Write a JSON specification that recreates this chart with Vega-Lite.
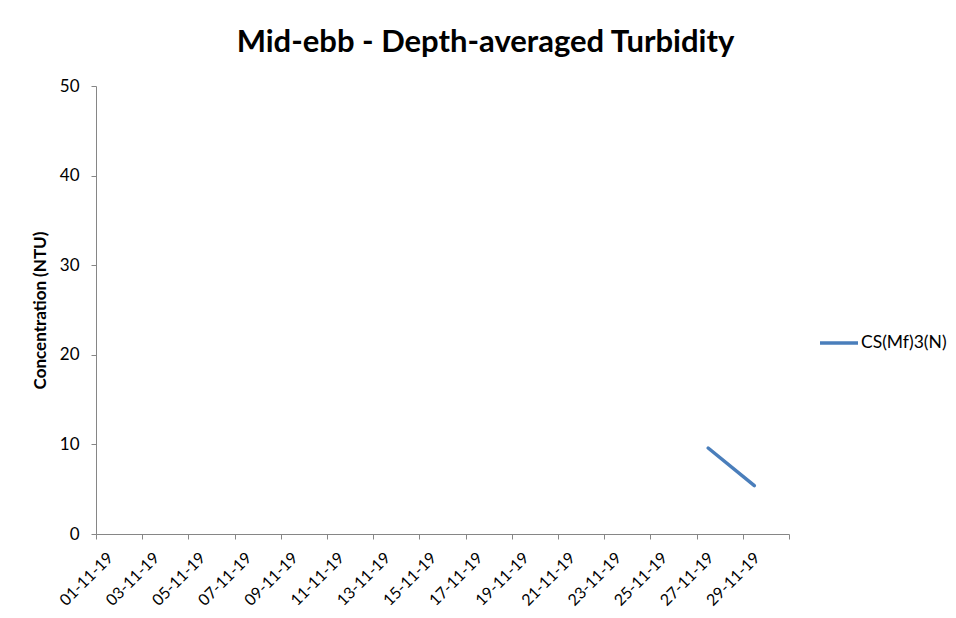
{
  "$schema": "https://vega.github.io/schema/vega-lite/v6.json",
  "autosize": "none",
  "width": 693,
  "height": 448,
  "padding": {"left": 96, "top": 86, "right": 167, "bottom": 84},
  "background": "white",
  "title": {
    "text": "Mid-ebb - Depth-averaged Turbidity",
    "font": "Lato",
    "fontSize": 31,
    "fontWeight": "bold",
    "color": "#000000",
    "anchor": "middle",
    "dx": 43,
    "offset": 18
  },
  "config": {
    "view": {"stroke": null},
    "axis": {
      "domainColor": "#868686",
      "tickColor": "#868686",
      "grid": false,
      "labelFont": "Lato",
      "labelColor": "#000000",
      "titleFont": "Lato"
    }
  },
  "data": {
    "values": [
      {"date": "2019-11-27T12:00:00Z", "value": 9.6, "series": "CS(Mf)3(N)"},
      {"date": "2019-11-29T12:00:00Z", "value": 5.4, "series": "CS(Mf)3(N)"}
    ]
  },
  "mark": {"type": "line", "strokeWidth": 3.5, "strokeCap": "round"},
  "encoding": {
    "x": {
      "field": "date",
      "type": "temporal",
      "scale": {
        "type": "utc",
        "domain": [
          {"year": 2019, "month": 11, "date": 1, "utc": true},
          {"year": 2019, "month": 12, "date": 1, "utc": true}
        ]
      },
      "axis": {
        "title": null,
        "values": [
          {"year": 2019, "month": 11, "date": 1, "utc": true},
          {"year": 2019, "month": 11, "date": 3, "utc": true},
          {"year": 2019, "month": 11, "date": 5, "utc": true},
          {"year": 2019, "month": 11, "date": 7, "utc": true},
          {"year": 2019, "month": 11, "date": 9, "utc": true},
          {"year": 2019, "month": 11, "date": 11, "utc": true},
          {"year": 2019, "month": 11, "date": 13, "utc": true},
          {"year": 2019, "month": 11, "date": 15, "utc": true},
          {"year": 2019, "month": 11, "date": 17, "utc": true},
          {"year": 2019, "month": 11, "date": 19, "utc": true},
          {"year": 2019, "month": 11, "date": 21, "utc": true},
          {"year": 2019, "month": 11, "date": 23, "utc": true},
          {"year": 2019, "month": 11, "date": 25, "utc": true},
          {"year": 2019, "month": 11, "date": 27, "utc": true},
          {"year": 2019, "month": 11, "date": 29, "utc": true},
          {"year": 2019, "month": 12, "date": 1, "utc": true}
        ],
        "labelExpr": "utcmonth(datum.value) == 11 ? '' : utcFormat(datum.value, '%d-%m-%y')",
        "labelAngle": -45,
        "labelAlign": "right",
        "labelBaseline": "middle",
        "labelFontSize": 16,
        "labelPadding": 16,
        "labelOffset": 14,
        "tickSize": 5,
        "labelOverlap": false,
        "labelFlush": false
      }
    },
    "y": {
      "field": "value",
      "type": "quantitative",
      "scale": {"domain": [0, 50]},
      "axis": {
        "title": "Concentration (NTU)",
        "titleFontSize": 17,
        "titleFontWeight": "bold",
        "titlePadding": 10,
        "values": [0, 10, 20, 30, 40, 50],
        "labelFontSize": 17,
        "labelPadding": 12,
        "tickSize": 5
      }
    },
    "color": {
      "field": "series",
      "type": "nominal",
      "scale": {"range": ["#4A7EBB"]},
      "legend": {
        "title": null,
        "orient": "none",
        "legendX": 722,
        "legendY": 236,
        "symbolType": "stroke",
        "symbolStrokeWidth": 3.5,
        "symbolSize": 1444,
        "labelFont": "Lato",
        "labelFontSize": 17.5,
        "labelColor": "#000000",
        "labelOffset": 1
      }
    }
  }
}
